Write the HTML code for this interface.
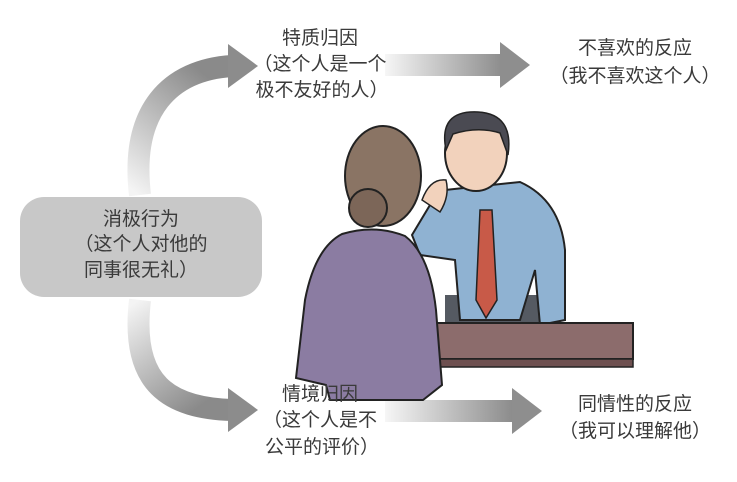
<!DOCTYPE html>
<html><head><meta charset="utf-8"><style>
html,body{margin:0;padding:0;background:#fff;}
svg{display:block}
text{font-family:"Liberation Sans","Noto Sans CJK SC",sans-serif;font-size:19px;fill:#3a3a3a;text-anchor:middle}
</style></head><body>
<svg width="737" height="482" viewBox="0 0 737 482" xmlns="http://www.w3.org/2000/svg">
<defs>
<linearGradient id="h" x1="0" x2="1"><stop offset="0" stop-color="#f6f6f6"/><stop offset="1" stop-color="#8a8a8a"/></linearGradient>
<linearGradient id="vt" x1="0" y1="1" x2="0.6" y2="0"><stop offset="0" stop-color="#f4f4f4"/><stop offset="1" stop-color="#8a8a8a"/></linearGradient>
<linearGradient id="vb" x1="0" y1="0" x2="0.6" y2="1"><stop offset="0" stop-color="#f4f4f4"/><stop offset="1" stop-color="#8a8a8a"/></linearGradient>
</defs>
<path d="M140 195 C130 110 170 70 232 66" stroke="url(#vt)" stroke-width="22" fill="none"/>
<polygon points="228,44 258,66 228,88" fill="#8c8c8c"/>
<path d="M140 300 C130 385 170 408 232 410" stroke="url(#vb)" stroke-width="22" fill="none"/>
<polygon points="228,388 258,410 228,432" fill="#8c8c8c"/>
<rect x="385" y="54" width="120" height="22" fill="url(#h)"/>
<polygon points="500,42 530,65 500,88" fill="#8e8e8e"/>
<rect x="385" y="400" width="130" height="22" fill="url(#h)"/>
<polygon points="512,388 542,411 512,434" fill="#8e8e8e"/>
<rect x="20" y="197" width="242" height="100" rx="24" fill="#c8c8c8"/>
<text x="141" y="225">消极行为</text>
<text x="141" y="250">（这个人对他的</text>
<text x="141" y="276">同事很无礼）</text>
<!-- man -->
<rect x="445" y="295" width="110" height="32" fill="#555a62"/>
<path d="M445 190 L520 182 Q560 200 565 250 L565 320 L540 325 L535 270 L520 320 L460 320 L455 260 L420 255 L412 235 L430 205 Z" fill="#8fb2d2" stroke="#222" stroke-width="2"/>
<polygon points="480,210 492,210 497,300 486,318 476,300" fill="#c85a48" stroke="#222" stroke-width="1.5"/>
<ellipse cx="476" cy="153" rx="31" ry="38" fill="#f2d2bc" stroke="#222" stroke-width="2"/>
<path d="M446 150 Q438 110 478 112 Q514 114 508 155 L500 133 Q478 126 453 134 Z" fill="#4a4a52" stroke="#222" stroke-width="1.5"/>
<path d="M422 200 Q430 178 446 180 Q450 196 440 212 Z" fill="#f2d2bc" stroke="#222" stroke-width="1.5"/>
<!-- desk -->
<rect x="437" y="323" width="196" height="36" fill="#8c6c6c" stroke="#222" stroke-width="2"/>
<rect x="437" y="359" width="196" height="8" fill="#6e5050" stroke="#222" stroke-width="1.5"/>
<!-- woman -->
<path d="M342 234 Q375 224 405 236 Q430 255 436 310 L442 385 L423 400 L330 400 L326 385 L296 378 L305 300 Q315 248 342 234 Z" fill="#8b7ca2" stroke="#222" stroke-width="2"/>
<ellipse cx="383" cy="176" rx="38" ry="50" fill="#8a7464" stroke="#222" stroke-width="2"/>
<circle cx="368" cy="208" r="19" fill="#7c6658" stroke="#222" stroke-width="2"/>
<!-- labels -->
<text x="320" y="44">特质归因</text>
<text x="320" y="70">（这个人是一个</text>
<text x="322" y="96">极不友好的人）</text>
<text x="635" y="54">不喜欢的反应</text>
<text x="635" y="82">（我不喜欢这个人）</text>
<text x="320" y="400">情境归因</text>
<text x="320" y="426">（这个人是不</text>
<text x="322" y="453">公平的评价）</text>
<text x="635" y="410">同情性的反应</text>
<text x="635" y="437">（我可以理解他）</text>
</svg>
</body></html>
